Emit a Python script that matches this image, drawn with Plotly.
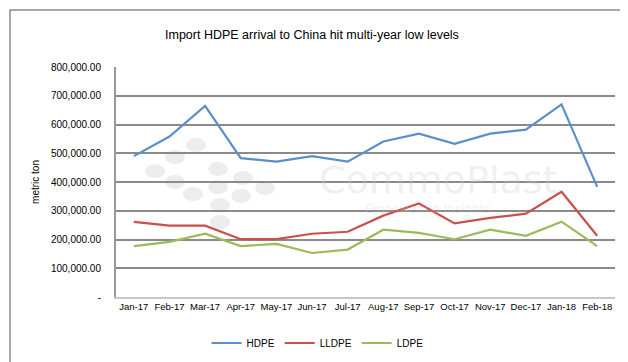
import plotly.graph_objects as go

months = ["Jan-17", "Feb-17", "Mar-17", "Apr-17", "May-17", "Jun-17", "Jul-17",
          "Aug-17", "Sep-17", "Oct-17", "Nov-17", "Dec-17", "Jan-18", "Feb-18"]
hdpe = [490000, 558000, 665000, 483000, 471000, 490000, 471000,
        541000, 568000, 533000, 568000, 582000, 670000, 383000]
lldpe = [261000, 248000, 248000, 201000, 201000, 220000, 227000,
         283000, 325000, 256000, 275000, 290000, 366000, 213000]
ldpe = [177000, 192000, 220000, 177000, 185000, 153000, 165000,
        234000, 223000, 201000, 234000, 213000, 262000, 177000]
ytick_vals = [0, 100000, 200000, 300000, 400000, 500000, 600000, 700000, 800000]
ytick_text = ["-", "100,000.00", "200,000.00", "300,000.00", "400,000.00",
              "500,000.00", "600,000.00", "700,000.00", "800,000.00"]

W, H = 628, 362
ML, MR, MT, MB = 108, 21, 59, 73
PW, PH = W - ML - MR, H - MT - MB
FONT = "Liberation Sans, Arial, sans-serif"

def px(x):
    return (x - ML) / PW

def py(y):
    return (H - MB - y) / PH

fig = go.Figure()
for name, vals, col in [("HDPE", hdpe, "#5B8FC9"), ("LLDPE", lldpe, "#C9504C"), ("LDPE", ldpe, "#9BBB59")]:
    fig.add_trace(go.Scatter(x=months, y=vals, name=name, mode="lines",
                             line=dict(color=col, width=2.2)))

shapes = []
# watermark dots
dots = [(188, 137), (167, 149), (147, 163), (167, 174), (210, 161), (235, 170), (257, 180),
        (210, 179), (185, 186), (233, 188), (212, 197), (212, 214)]
for (cx, cy) in dots:
    shapes.append(dict(type="circle", xref="paper", yref="paper", layer="below",
                       x0=px(cx - 10), x1=px(cx + 10), y0=py(cy + 7), y1=py(cy - 7),
                       fillcolor="#eceeec", line=dict(width=0)))
# outer frame
shapes.append(dict(type="rect", xref="paper", yref="paper",
                   x0=px(2), x1=px(624), y0=py(357), y1=py(2),
                   line=dict(color="#8c8c8c", width=1.5), fillcolor="rgba(0,0,0,0)"))

fig.update_layout(
    width=W, height=H,
    margin=dict(l=ML, r=MR, t=MT, b=MB),
    paper_bgcolor="white", plot_bgcolor="white",
    font=dict(family=FONT, size=10, color="#000000"),
    title=dict(text="Import HDPE arrival to China hit multi-year low levels",
               x=0.484, xref="container", xanchor="center", y=1 - 27 / H, yanchor="middle",
               font=dict(size=12.5, family=FONT, color="#000000")),
    xaxis=dict(type="category", range=[-0.5, 13.5], showgrid=False,
               showline=True, linecolor="#c8c8c8", linewidth=2,
               ticks="", tickangle=0, tickfont=dict(size=9.5), fixedrange=True),
    yaxis=dict(range=[0, 800000], tickvals=ytick_vals, ticktext=ytick_text,
               showgrid=True, gridcolor="#8a8a8a", gridwidth=2.2,
               showline=True, linecolor="#9a9a9a", linewidth=2,
               zeroline=False, ticks="", ticklen=0, tickfont=dict(size=10),
               ticklabelstandoff=11,
               title=dict(text="metric ton", font=dict(size=10), standoff=9)),
    legend=dict(orientation="h", x=0.404, xanchor="center", y=-(335 - (H - MB)) / PH,
                yanchor="middle", font=dict(size=10), itemwidth=30),
    showlegend=True,
    shapes=shapes,
    annotations=[
        dict(text="CommoPlast", xref="paper", yref="paper", x=px(430), y=py(172),
             showarrow=False, font=dict(size=38, color="rgba(200,205,200,0.3)", family="DejaVu Sans")),
        dict(text="Empowering Insights", xref="paper", yref="paper", x=px(420), y=py(201),
             showarrow=False, font=dict(size=12, color="rgba(200,205,200,0.3)", family="DejaVu Sans")),
    ],
)

fig.write_html("out.html")
